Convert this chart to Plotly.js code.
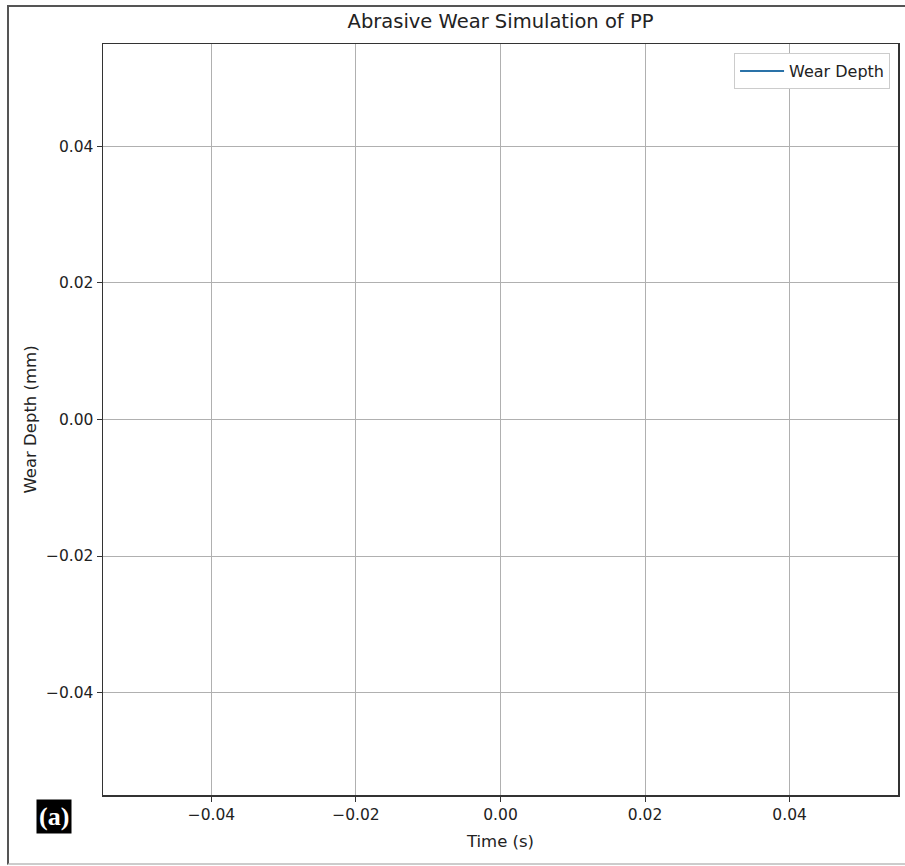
<!DOCTYPE html>
<html>
<head>
<meta charset="utf-8">
<script src="https://cdn.plot.ly/plotly-3.0.1.min.js"></script>
<style>
  html, body { margin: 0; padding: 0; background: #fff; }
  #wrap { position: relative; width: 905px; height: 866px; overflow: hidden; }
  #chart { position: absolute; left: 0; top: 0; width: 905px; height: 866px; }
  #frame { position: absolute; left: 7px; top: 5px; width: 910px; height: 856px;
           border-left: 2px solid #555; border-top: 2px solid #555; border-bottom: 2px solid #ccc;
           pointer-events: none; }
</style>
</head>
<body>
<div id="wrap">
  <div id="chart"></div>
  <div id="frame"></div>
</div>
<script>
// The simulation produced no finite values (the plotted series is NaN)
const timeValues = [null];
const wearDepth = [null];
const xTicks = [-0.04, -0.02, 0.00, 0.02, 0.04];
const yTicks = [-0.04, -0.02, 0.00, 0.02, 0.04];
const tickText = v => (v < 0 ? '\u2212' : '') + Math.abs(v).toFixed(2);

const font = 'DejaVu Sans, sans-serif';

const data = [{
  x: timeValues,
  y: wearDepth,
  type: 'scatter',
  mode: 'lines',
  name: 'Wear Depth',
  showlegend: true,
  line: { color: '#2a72a8', width: 2 }
}];

const axisCommon = {
  showline: true, mirror: true, linecolor: '#333', linewidth: 1.5,
  showgrid: true, gridcolor: '#b0b0b0', gridwidth: 1,
  ticks: 'outside', ticklen: 5, tickcolor: '#333', tickwidth: 1,
  zeroline: false, tickfont: { family: font, size: 15.5, color: '#222' },
  tickmode: 'array'
};

const layout = {
  width: 905, height: 866,
  margin: { l: 103, r: 7, t: 44, b: 71 },
  paper_bgcolor: 'rgba(0,0,0,0)', plot_bgcolor: '#fff',
  font: { family: font, color: '#222' },
  title: { text: 'Abrasive Wear Simulation of PP', font: { family: font, size: 19.5, color: '#222' },
           x: 0.5, xanchor: 'center', y: 0.975, yanchor: 'middle', xref: 'paper' },
  xaxis: Object.assign({}, axisCommon, {
    range: [-0.055, 0.055], tickvals: xTicks, ticktext: xTicks.map(tickText),
    title: { text: 'Time (s)', font: { family: font, size: 16.5, color: '#222' }, standoff: 12 }
  }),
  yaxis: Object.assign({}, axisCommon, {
    range: [-0.055, 0.055], tickvals: yTicks, ticktext: yTicks.map(tickText),
    title: { text: 'Wear Depth (mm)', font: { family: font, size: 16.5, color: '#222' }, standoff: 5 }
  }),
  showlegend: true,
  legend: {
    x: 0.99, xanchor: 'right', y: 0.988, yanchor: 'top',
    bgcolor: '#fff', bordercolor: '#ccc', borderwidth: 1,
    itemwidth: 44,
    font: { family: font, size: 16, color: '#222' }
  },
  annotations: [{
    text: '<b>(a)</b>', xref: 'paper', yref: 'paper',
    x: (54 - 103) / 795, y: (795 - 816) / 751, xanchor: 'center', yanchor: 'middle',
    showarrow: false, bgcolor: '#000', borderpad: 2,
    font: { family: 'Liberation Serif', size: 26, color: '#fff' }
  }]
};

Plotly.newPlot('chart', data, layout, { displayModeBar: false, staticPlot: true });
</script>
</body>
</html>
